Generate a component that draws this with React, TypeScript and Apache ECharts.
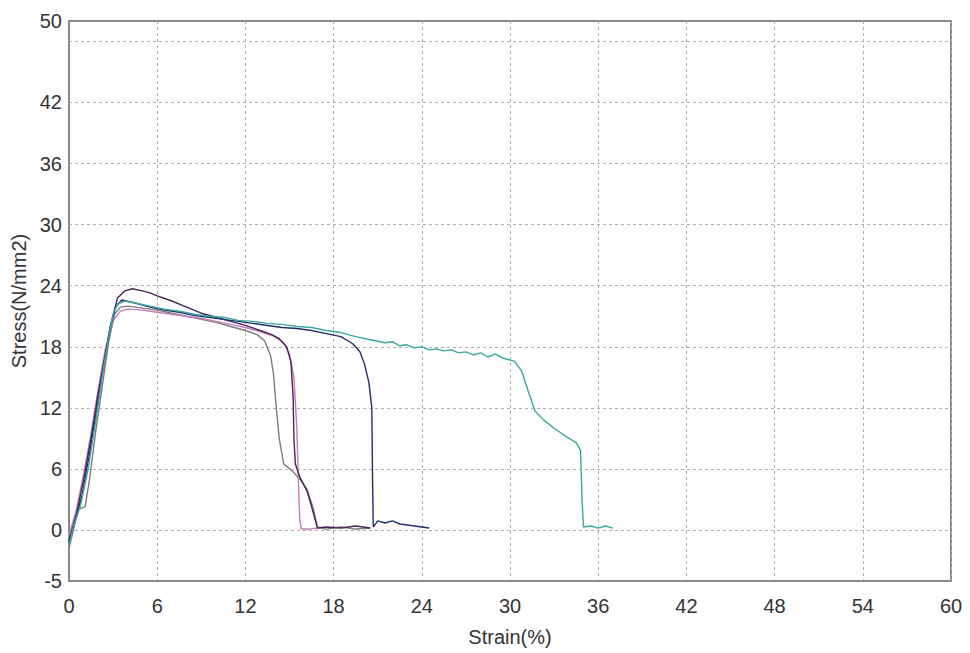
import React, { useEffect, useRef } from "react";
import * as echarts from "echarts";

const strainTicks = [0, 6, 12, 18, 24, 30, 36, 42, 48, 54, 60];
const stressLabels = [-5, 0, 6, 12, 18, 24, 30, 36, 42, 50];
const stressGrid = [0, 6, 12, 18, 24, 30, 36, 42, 48];

const grayCurve: [number, number][] = [
  [0, -1.8], [0.3, 0], [0.6, 2], [1.1, 2.3], [1.4, 5], [1.8, 9.5], [2.3, 14.5], [2.7, 18.5],
  [3.1, 21.2], [3.5, 21.9], [4, 22.0], [5, 21.8], [6, 21.6], [7, 21.3], [8, 21.0], [9, 20.7],
  [10, 20.4], [11, 20.0], [12, 19.6], [12.8, 19.2], [13.3, 18.6], [13.7, 17.2], [13.9, 15.5],
  [14.1, 12], [14.3, 9], [14.6, 6.5], [15.2, 5.8], [15.7, 5], [16.2, 4], [16.6, 2.2], [16.9, 0.3],
  [17.5, 0.1], [18.5, 0.3], [19.5, 0.1], [20.5, 0.2],
];

const pinkCurve: [number, number][] = [
  [0, -0.5], [0.5, 2], [1.0, 5.5], [1.5, 9.5], [2.0, 14], [2.5, 18], [3.0, 20.6], [3.5, 21.5],
  [4, 21.7], [5, 21.6], [6, 21.4], [7, 21.2], [8, 21.0], [9, 20.8], [10, 20.5], [11, 20.2],
  [12, 19.9], [13, 19.5], [14, 19.0], [14.6, 18.4], [15.0, 17.3], [15.3, 15], [15.5, 10],
  [15.6, 5], [15.7, 1], [15.8, 0.1], [16.3, 0.1], [17, 0.2],
];

const purpleCurve: [number, number][] = [
  [0, -1.0], [0.5, 1.5], [1.0, 5], [1.5, 9], [2.0, 13.5], [2.5, 17.5], [2.9, 20.5], [3.3, 22.8],
  [3.8, 23.5], [4.3, 23.7], [5, 23.5], [5.5, 23.3], [6, 23.0], [7, 22.5], [8, 21.9], [9, 21.3],
  [10, 20.9], [11, 20.5], [12, 20.1], [13, 19.6], [13.8, 19.2], [14.3, 18.8], [14.8, 18],
  [15.1, 16.5], [15.25, 13], [15.3, 9], [15.4, 6.5], [15.7, 5.2], [16.2, 3.8], [16.6, 1.8],
  [16.9, 0.2], [17.5, 0.3], [18.5, 0.2], [19.5, 0.4], [20.5, 0.2],
];

const navyCurve: [number, number][] = [
  [0, -1.2], [0.4, 0.8], [0.9, 3.5], [1.4, 7.5], [1.9, 12], [2.4, 16.5], [2.8, 20], [3.2, 22],
  [3.6, 22.6], [4.5, 22.3], [5.5, 21.9], [6.5, 21.6], [7.5, 21.4], [8.5, 21.1], [9.5, 20.9],
  [10.5, 20.7], [11.5, 20.5], [12.5, 20.3], [13.5, 20.1], [14.5, 19.9], [15.5, 19.8], [16.5, 19.6],
  [17.5, 19.3], [18.5, 19.0], [19.3, 18.3], [19.8, 17.5], [20.1, 16.3], [20.4, 14.5], [20.6, 12],
  [20.65, 5], [20.7, 0.3], [21, 0.9], [21.5, 0.7], [22, 0.9], [22.5, 0.6], [23, 0.5], [23.5, 0.4],
  [24, 0.3], [24.5, 0.2],
];

const tealCurve: [number, number][] = [
  [0, -1.5], [0.3, 0.3], [0.8, 2.5], [1.3, 6], [1.8, 10.5], [2.3, 15.5], [2.7, 19], [3.0, 21.2],
  [3.3, 22.2], [3.8, 22.5], [4.5, 22.3], [5.5, 22.0], [6.5, 21.7], [7.5, 21.5], [8.5, 21.2],
  [9.5, 21.0], [10.5, 20.9], [11.5, 20.6], [12.5, 20.5], [13.5, 20.3], [14.5, 20.2], [15.5, 20.0],
  [16.5, 19.9], [17.5, 19.6], [18.5, 19.4], [19.5, 19.0], [20.5, 18.7], [21.5, 18.4], [22.0, 18.5],
  [22.5, 18.1], [23.0, 18.2], [23.5, 17.9], [24.0, 18.0], [24.5, 17.7], [25.0, 17.8], [25.5, 17.6],
  [26.0, 17.7], [26.5, 17.4], [27.0, 17.5], [27.5, 17.2], [28.0, 17.4], [28.5, 17.0], [29.0, 17.3],
  [29.5, 16.9], [30.3, 16.6], [30.8, 15.6], [31.2, 13.8], [31.7, 11.7], [32.3, 10.8], [33.0, 10.0],
  [33.8, 9.2], [34.5, 8.6], [34.8, 7.8], [34.9, 3], [35.0, 0.3], [35.5, 0.4], [36, 0.2],
  [36.5, 0.4], [37, 0.2],
];

const curves = [
  { name: "gray", color: "#7d7d7d", data: grayCurve },
  { name: "pink", color: "#c47cbc", data: pinkCurve },
  { name: "purple", color: "#4b2458", data: purpleCurve },
  { name: "navy", color: "#22306a", data: navyCurve },
  { name: "teal", color: "#3aa8a0", data: tealCurve },
];

const FONT = "'Liberation Sans', Arial, sans-serif";

export default function App() {
  const ref = useRef<HTMLDivElement>(null);
  useEffect(() => {
    if (!ref.current) return;
    const chart = echarts.init(ref.current, undefined, { renderer: "svg" });
    const gridLine = { color: "#b0b0b0", type: [3, 3] as number[], width: 1 };
    chart.setOption({
      animation: false,
      backgroundColor: "#ffffff",
      grid: {
        left: 69,
        right: 19,
        top: 21,
        bottom: 72,
        show: true,
        borderColor: "#8a8a8a",
        borderWidth: 2,
        backgroundColor: "#ffffff",
      },
      xAxis: {
        type: "value",
        min: strainTicks[0],
        max: strainTicks[strainTicks.length - 1],
        interval: 6,
        name: "Strain(%)",
        nameLocation: "middle",
        nameGap: 46,
        nameTextStyle: { fontFamily: FONT, fontSize: 20, color: "#333" },
        axisLine: { show: true, onZero: false, lineStyle: { color: "#8a8a8a", width: 2 } },
        axisTick: { show: false },
        axisLabel: { fontFamily: FONT, fontSize: 20, color: "#333", margin: 15 },
        splitLine: { show: true, lineStyle: gridLine },
      },
      yAxis: {
        type: "value",
        min: -5,
        max: 50,
        interval: 1,
        name: "Stress(N/mm2)",
        nameLocation: "middle",
        nameGap: 38,
        nameTextStyle: { fontFamily: FONT, fontSize: 20, color: "#333" },
        axisLine: { show: true, onZero: false, lineStyle: { color: "#8a8a8a", width: 2 } },
        axisTick: { show: false },
        axisLabel: {
          fontFamily: FONT,
          fontSize: 20,
          color: "#333",
          margin: 7,
          formatter: (v: number) => (stressLabels.includes(v) ? String(v) : ""),
        },
        splitLine: { show: false },
      },
      series: curves.map((c, i) => ({
        type: "line",
        name: c.name,
        data: c.data,
        showSymbol: false,
        symbol: "none",
        z: 3 + i,
        lineStyle: { color: c.color, width: 1.4 },
        markLine:
          i === 0
            ? {
                silent: true,
                symbol: "none",
                label: { show: false },
                lineStyle: gridLine,
                animation: false,
                z: 1,
                data: stressGrid.map((v) => ({ yAxis: v })),
              }
            : undefined,
      })),
    });
    return () => chart.dispose();
  }, []);
  return (
    <div
      ref={ref}
      style={{ position: "absolute", left: 0, top: 0, width: 970, height: 653 }}
    />
  );
}
